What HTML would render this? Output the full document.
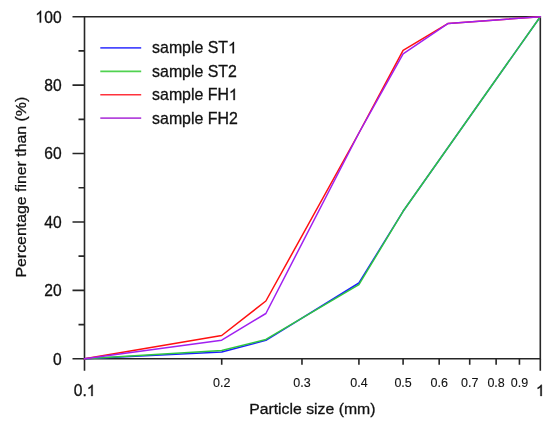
<!DOCTYPE html>
<html><head><meta charset="utf-8"><style>
html,body{margin:0;padding:0;background:#fff;}
body{width:550px;height:422px;overflow:hidden;}
svg{display:block;will-change:transform;}
text{font-family:"Liberation Sans", sans-serif;fill:#111;stroke:#111;stroke-width:0.3px;}
.one{fill-opacity:0;stroke-opacity:0;}
text.sm{stroke-width:0.1px;}
.g1{fill:#111;stroke:#111;}
</style></head><body>
<svg width="550" height="422" viewBox="0 0 550 422">
<rect width="550" height="422" fill="#fff"/>
<path d="M84.5,16.7H540.3V358.8H84.5Z" fill="none" stroke="#262626" stroke-width="1.6"/>
<path d="M72.5,358.80H84.5 M78.5,324.59H84.5 M72.5,290.38H84.5 M78.5,256.17H84.5 M72.5,221.96H84.5 M78.5,187.75H84.5 M72.5,153.54H84.5 M78.5,119.33H84.5 M72.5,85.12H84.5 M78.5,50.91H84.5 M72.5,16.70H84.5 M84.50,358.8V370.8 M221.71,358.8V364.8 M301.97,358.8V364.8 M358.92,358.8V364.8 M403.09,358.8V364.8 M439.18,358.8V364.8 M469.70,358.8V364.8 M496.13,358.8V364.8 M519.44,358.8V364.8 M540.30,358.8V370.8" stroke="#262626" stroke-width="1.6" fill="none"/>
<polyline points="84.50,358.80 221.71,352.00 265.88,340.30 358.92,283.00 403.09,211.30 540.30,16.70" fill="none" stroke="#1c1cff" stroke-width="1.5" stroke-linejoin="round" stroke-linecap="round"/>
<polyline points="84.50,358.80 221.71,350.60 265.88,339.40 358.92,284.60 403.09,211.30 540.30,16.70" fill="none" stroke="#30c840" stroke-width="1.5" stroke-linejoin="round" stroke-linecap="round"/>
<polyline points="84.50,358.80 221.71,335.50 265.88,301.00 358.92,133.00 403.09,50.40 448.20,23.40 540.30,16.70" fill="none" stroke="#ff1010" stroke-width="1.5" stroke-linejoin="round" stroke-linecap="round"/>
<polyline points="84.50,358.80 221.71,340.20 265.88,313.50 358.92,133.00 403.09,53.80 448.20,23.40 540.30,16.70" fill="none" stroke="#a020f0" stroke-width="1.5" stroke-linejoin="round" stroke-linecap="round"/>
<line x1="100.3" x2="141.2" y1="47.95" y2="47.95" stroke="#4a4aff" stroke-width="1.7"/>
<line x1="100.3" x2="141.2" y1="71.35" y2="71.35" stroke="#50d250" stroke-width="1.7"/>
<line x1="100.3" x2="141.2" y1="94.75" y2="94.75" stroke="#ff323c" stroke-width="1.7"/>
<line x1="100.3" x2="141.2" y1="118.15" y2="118.15" stroke="#b446dc" stroke-width="1.7"/>
<text id="y0" x="0.00" y="0.00" font-size="15.6" text-anchor="end" transform="translate(61.6,364.70) scale(1,1.06)">0</text>
<text id="y20" x="0.00" y="0.00" font-size="15.6" text-anchor="end" transform="translate(61.6,296.28) scale(1,1.06)">20</text>
<text id="y40" x="0.00" y="0.00" font-size="15.6" text-anchor="end" transform="translate(61.6,227.86) scale(1,1.06)">40</text>
<text id="y60" x="0.00" y="0.00" font-size="15.6" text-anchor="end" transform="translate(61.6,159.44) scale(1,1.06)">60</text>
<text id="y80" x="0.00" y="0.00" font-size="15.6" text-anchor="end" transform="translate(61.6,91.02) scale(1,1.06)">80</text>
<text id="y100" x="0.00" y="0.00" font-size="15.6" text-anchor="end" transform="translate(61.6,22.60) scale(1,1.06)"><tspan class="one">1</tspan>00</text>
<path class="g1" stroke-width="39.4" d="M763 0H583V1147Q518 1085 412.5 1023T223 930V1104Q375 1175 489 1276T650 1472H763V0Z" transform="translate(61.6,22.60) scale(1,1.06) translate(-26.32,0.00) scale(0.00762,-0.00762)"/>
<text id="x01" x="0.00" y="0.00" font-size="15.6" text-anchor="middle" transform="translate(84.70,396.0)">0.<tspan class="one">1</tspan></text>
<path class="g1" stroke-width="39.4" d="M763 0H583V1147Q518 1085 412.5 1023T223 930V1104Q375 1175 489 1276T650 1472H763V0Z" transform="translate(84.70,396.0) translate(2.16,0.00) scale(0.00762,-0.00762)"/>
<text id="x1" x="0.00" y="0.00" font-size="15.6" text-anchor="middle" transform="translate(540.30,396.0)"><tspan class="one">1</tspan></text>
<path class="g1" stroke-width="39.4" d="M763 0H583V1147Q518 1085 412.5 1023T223 930V1104Q375 1175 489 1276T650 1472H763V0Z" transform="translate(540.30,396.0) translate(-4.34,0.00) scale(0.00762,-0.00762)"/>
<text id="x0.2" class="sm" x="221.71" y="387.00" font-size="12.5" text-anchor="middle">0.2</text>
<text id="x0.3" class="sm" x="301.97" y="387.00" font-size="12.5" text-anchor="middle">0.3</text>
<text id="x0.4" class="sm" x="358.92" y="387.00" font-size="12.5" text-anchor="middle">0.4</text>
<text id="x0.5" class="sm" x="403.09" y="387.00" font-size="12.5" text-anchor="middle">0.5</text>
<text id="x0.6" class="sm" x="439.18" y="387.00" font-size="12.5" text-anchor="middle">0.6</text>
<text id="x0.7" class="sm" x="469.70" y="387.00" font-size="12.5" text-anchor="middle">0.7</text>
<text id="x0.8" class="sm" x="496.13" y="387.00" font-size="12.5" text-anchor="middle">0.8</text>
<text id="x0.9" class="sm" x="519.44" y="387.00" font-size="12.5" text-anchor="middle">0.9</text>
<text id="xt" x="0.00" y="0.00" font-size="15.8" text-anchor="middle" transform="translate(312.3,413.9) scale(1,0.965)">Particle size (mm)</text>
<text id="yt" x="0.00" y="0.00" font-size="15.88" text-anchor="middle" transform="translate(26.0,187.15) rotate(-90) scale(1,0.91)">Percentage finer than (%)</text>
<text id="l0" x="152.10" y="53.30" font-size="15.9" text-anchor="start">sample ST<tspan class="one">1</tspan></text>
<path class="g1" stroke-width="38.6" d="M763 0H583V1147Q518 1085 412.5 1023T223 930V1104Q375 1175 489 1276T650 1472H763V0Z" transform="translate(228.05,53.30) scale(0.00776,-0.00776)"/>
<text id="l1" x="152.10" y="76.70" font-size="15.9" text-anchor="start">sample ST2</text>
<text id="l2" x="152.10" y="100.10" font-size="15.9" text-anchor="start">sample FH<tspan class="one">1</tspan></text>
<path class="g1" stroke-width="38.6" d="M763 0H583V1147Q518 1085 412.5 1023T223 930V1104Q375 1175 489 1276T650 1472H763V0Z" transform="translate(228.93,100.10) scale(0.00776,-0.00776)"/>
<text id="l3" x="152.10" y="123.50" font-size="15.9" text-anchor="start">sample FH2</text>
</svg></body></html>
